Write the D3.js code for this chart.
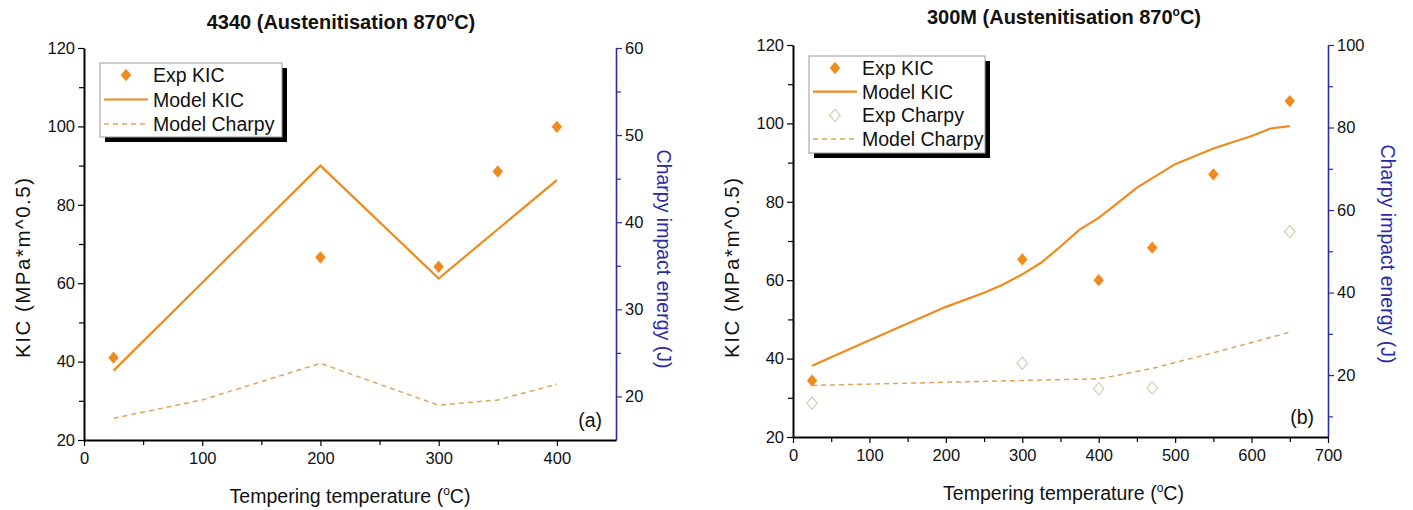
<!DOCTYPE html>
<html><head><meta charset="utf-8">
<script src="https://cdn.jsdelivr.net/npm/d3@7"></script>
<style>
html,body{margin:0;padding:0;background:#fff;}
svg text{font-family:"Liberation Sans",Arial,sans-serif;}
</style></head>
<body><svg id="c" width="1413" height="510"></svg>
<script>
// ---------- DATA ----------
// Panel (a) 4340
const tempA_exp = [25, 200, 300, 350, 400];
const kicA_exp = [41.0, 66.6, 64.2, 88.5, 99.9];
const tempA_model = [25, 200, 300, 400];
const kicA_model = [37.7, 90.0, 61.2, 86.3];
const tempA_charpyModel = [25, 100, 200, 300, 350, 400];
const charpyA_model = [17.5, 19.6, 23.8, 19.0, 19.6, 21.4];
// Panel (b) 300M
const tempB_exp = [25, 300, 400, 470, 550, 650];
const kicB_exp = [34.4, 65.3, 60.0, 68.3, 87.0, 105.7];
const tempB_model = [25, 100, 200, 250, 275, 300, 325, 350, 375, 400, 425, 450, 500, 550, 600, 625, 650];
const kicB_model = [38.2, 44.7, 53.2, 56.8, 58.9, 61.5, 64.5, 68.6, 72.9, 75.9, 79.7, 83.6, 89.6, 93.6, 96.8, 98.7, 99.3];
const tempB_charpyExp = [25, 300, 400, 470, 650];
const charpyB_exp = [13.2, 22.9, 16.7, 16.9, 54.8];
const tempB_charpyModel = [25, 300, 400, 470, 550, 650];
const charpyB_model = [17.5, 18.7, 19.1, 21.6, 25.4, 30.4];
// Axis ticks
const xTicksA = [0, 100, 200, 300, 400];
const xTicksB = [0, 100, 200, 300, 400, 500, 600, 700];
const yTicksKIC = [20, 40, 60, 80, 100, 120];
const yTicksJA = [20, 30, 40, 50, 60];
const yTicksJB = [20, 40, 60, 80, 100];
const titles = ["4340 (Austenitisation 870", "300M (Austenitisation 870"];
const panelLetters = ["(a)", "(b)"];

// ---------- STYLE ----------
const ORANGE = "#f08a1c", DASH = "#e0a45c", HOLLOW = "#d8cbb6", BLUE = "#2b2ba6";
const FS = 19.5;
const svg = d3.select("#c");

const diamond = { draw(ctx, size) { const h = Math.sqrt(size); const w = h*0.85; ctx.moveTo(0,-h); ctx.lineTo(w,0); ctx.lineTo(0,h); ctx.lineTo(-w,0); ctx.closePath(); } };
const symPath = d3.symbol().type(diamond).size(38)();

function panel(cfg) {
  const g = svg.append("g");
  const x = d3.scaleLinear().domain(cfg.xDom).range([cfg.x0, cfg.x1]);
  const y = d3.scaleLinear().domain([20, 120]).range([cfg.yB, cfg.yT]);
  const y2 = d3.scaleLinear().domain(cfg.jDom).range([cfg.yB, cfg.yT]);

  // minor ticks
  const xMin = d3.range(cfg.xDom[0] + 50, cfg.xDom[1], 100);
  g.append("g").attr("transform", `translate(0,${cfg.yB})`)
    .call(d3.axisBottom(x).tickValues(xMin).tickSize(5).tickFormat(""))
    .call(a => a.select(".domain").remove());
  g.append("g").attr("transform", `translate(${cfg.x0},0)`)
    .call(d3.axisLeft(y).tickValues([30, 50, 70, 90, 110]).tickSize(5).tickFormat(""))
    .call(a => a.select(".domain").remove());
  g.append("g").attr("transform", `translate(${cfg.x1},0)`)
    .call(d3.axisRight(y2).tickValues(cfg.jMinor).tickSize(5).tickFormat(""))
    .call(a => { a.select(".domain").remove(); a.selectAll("line").attr("stroke", BLUE); });

  // major axes
  const ax = g.append("g").attr("transform", `translate(0,${cfg.yB})`)
    .call(d3.axisBottom(x).tickValues(cfg.xTicks).tickSize(6).tickSizeOuter(0).tickPadding(6));
  ax.select(".domain").attr("stroke-width", 2);
  const ay = g.append("g").attr("transform", `translate(${cfg.x0},0)`)
    .call(d3.axisLeft(y).tickValues(yTicksKIC).tickSize(6).tickSizeOuter(0).tickPadding(3));
  ay.select(".domain").attr("stroke-width", 2);
  const ay2 = g.append("g").attr("transform", `translate(${cfg.x1},0)`)
    .call(d3.axisRight(y2).tickValues(cfg.jTicks).tickSize(6).tickSizeOuter(0).tickPadding(3));
  ay2.select(".domain").attr("stroke", BLUE).attr("stroke-width", 1.6);
  ay2.selectAll(".tick line").attr("stroke", BLUE);
  g.selectAll(".tick text").attr("font-size", 16.5).attr("font-family", "Liberation Sans, Arial, sans-serif").attr("fill", "#111");
  g.selectAll(".tick line").attr("stroke-width", 1.2);

  // lines
  const line = d3.line().x(d => x(d[0])).y(d => y(d[1]));
  const line2 = d3.line().x(d => x(d[0])).y(d => y2(d[1]));
  g.append("path").datum(d3.zip(cfg.tCM, cfg.jCM)).attr("d", line2)
    .attr("fill", "none").attr("stroke", DASH).attr("stroke-width", 1.5).attr("stroke-dasharray", "5,4");
  g.append("path").datum(d3.zip(cfg.tM, cfg.kM)).attr("d", line)
    .attr("fill", "none").attr("stroke", ORANGE).attr("stroke-width", 2.2);
  if (cfg.tCE) {
    g.selectAll(".ce").data(d3.zip(cfg.tCE, cfg.jCE)).join("path")
      .attr("d", symPath).attr("transform", d => `translate(${x(d[0])},${y2(d[1])})`)
      .attr("fill", "none").attr("stroke", HOLLOW).attr("stroke-width", 1.2);
  }
  g.selectAll(".ke").data(d3.zip(cfg.tE, cfg.kE)).join("path")
    .attr("d", symPath).attr("transform", d => `translate(${x(d[0])},${y(d[1])})`)
    .attr("fill", ORANGE);

  // title
  const t = g.append("text").attr("x", cfg.tx).attr("y", cfg.ty).attr("text-anchor", "middle")
    .attr("font-size", 20).attr("font-weight", "bold").attr("fill", "#111");
  t.append("tspan").text(cfg.title);
  t.append("tspan").attr("dy", -8).attr("font-size", 12).text("o");
  t.append("tspan").attr("dy", 8).text("C)");

  // x title
  const xt = g.append("text").attr("x", (cfg.x0 + cfg.x1) / 2 + cfg.xtOff).attr("y", cfg.yB + 63).attr("text-anchor", "middle")
    .attr("font-size", FS).attr("fill", "#111");
  xt.append("tspan").text("Tempering temperature (");
  xt.append("tspan").attr("dy", -8).attr("font-size", 12).text("o");
  xt.append("tspan").attr("dy", 8).text("C)");

  // y titles
  g.append("text").attr("transform", `translate(${cfg.x0 - 54},268) rotate(-90)`)
    .attr("text-anchor", "middle").attr("font-size", 20.5).attr("fill", "#111")
    .attr("textLength", 180).attr("lengthAdjust", "spacing").text("KIC (MPa*m^0.5)");
  g.append("text").attr("transform", `translate(${cfg.x1 + cfg.rOff},${cfg.yRc}) rotate(90)`)
    .attr("text-anchor", "middle").attr("font-size", FS).attr("fill", BLUE).text("Charpy impact energy (J)");

  // panel letter
  g.append("text").attr("x", cfg.x1 - 14).attr("y", cfg.yB - 13).attr("text-anchor", "end")
    .attr("font-size", FS).attr("fill", "#111").text(cfg.letter);

  // legend
  const L = cfg.leg;
  g.append("rect").attr("x", L.x + 5).attr("y", L.y + 5).attr("width", L.w).attr("height", L.h).attr("fill", "#000");
  g.append("rect").attr("x", L.x).attr("y", L.y).attr("width", L.w).attr("height", L.h).attr("fill", "#fff")
    .attr("stroke", "#999").attr("stroke-width", 1);
  cfg.items.forEach((it, i) => {
    const cy = L.y + 12 + i * L.dy;
    const sx = L.x + 26;
    if (it.type === "fill") g.append("path").attr("d", symPath).attr("transform", `translate(${sx},${cy})`).attr("fill", ORANGE);
    if (it.type === "hollow") g.append("path").attr("d", symPath).attr("transform", `translate(${sx},${cy})`).attr("fill", "none").attr("stroke", HOLLOW).attr("stroke-width", 1.2);
    if (it.type === "line") g.append("line").attr("x1", L.x + 4).attr("x2", L.x + 48).attr("y1", cy).attr("y2", cy).attr("stroke", ORANGE).attr("stroke-width", 2.2);
    if (it.type === "dash") g.append("line").attr("x1", L.x + 4).attr("x2", L.x + 48).attr("y1", cy).attr("y2", cy).attr("stroke", DASH).attr("stroke-width", 1.5).attr("stroke-dasharray", "5,4");
    g.append("text").attr("x", L.x + 53).attr("y", cy + 7).attr("font-size", FS).attr("fill", "#111").text(it.label);
  });
}

panel({
  xDom: [0, 450], x0: 84, x1: 616, yT: 48, yB: 440, jDom: [15, 60],
  xTicks: xTicksA, jTicks: yTicksJA, jMinor: [25, 35, 45, 55],
  tE: tempA_exp, kE: kicA_exp, tM: tempA_model, kM: kicA_model,
  tCM: tempA_charpyModel, jCM: charpyA_model,
  title: titles[0], tx: 341, ty: 29, letter: panelLetters[0],
  yRc: 259, rOff: 41, xtOff: 0,
  leg: { x: 100, y: 63, w: 182, h: 74, dy: 24.5 },
  items: [{ type: "fill", label: "Exp KIC" }, { type: "line", label: "Model KIC" }, { type: "dash", label: "Model Charpy" }]
});
panel({
  xDom: [0, 700], x0: 793, x1: 1328, yT: 45, yB: 437, jDom: [5, 100],
  xTicks: xTicksB, jTicks: yTicksJB, jMinor: [10, 30, 50, 70, 90],
  tE: tempB_exp, kE: kicB_exp, tM: tempB_model, kM: kicB_model,
  tCM: tempB_charpyModel, jCM: charpyB_model, tCE: tempB_charpyExp, jCE: charpyB_exp,
  title: titles[1], tx: 1064, ty: 24, letter: panelLetters[1],
  yRc: 254, rOff: 53, xtOff: 3,
  leg: { x: 809, y: 56, w: 176, h: 97, dy: 23.7 },
  items: [{ type: "fill", label: "Exp KIC" }, { type: "line", label: "Model KIC" }, { type: "hollow", label: "Exp Charpy" }, { type: "dash", label: "Model Charpy" }]
});
</script></body></html>
